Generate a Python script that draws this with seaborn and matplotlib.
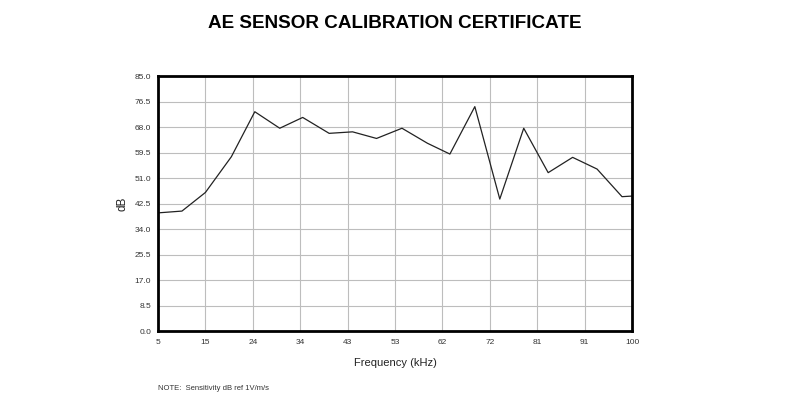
import pandas as pd
import matplotlib
matplotlib.use("Agg")
import matplotlib.pyplot as plt
import seaborn as sns

frecuencia = [5, 9.8, 14.5, 19.7, 24.4, 29.4, 34.0, 39.3, 44.0, 48.8, 53.9,
              59.0, 63.5, 68.5, 73.5, 78.3, 83.2, 88.1, 93.0, 98.0, 100]
sensibilidad = [39.4, 40.0, 46.2, 58.1, 73.1, 67.6, 71.2, 65.9, 66.4, 64.2, 67.6,
                62.6, 59.0, 74.8, 44.0, 67.6, 52.8, 57.9, 54.0, 44.8, 45.0]

x_ticks = [5, 14.5, 24, 33.5, 43, 52.5, 62, 71.5, 81, 90.5, 100]
x_labels = ["5", "15", "24", "34", "43", "53", "62", "72", "81", "91", "100"]
y_ticks = [0.0, 8.5, 17.0, 25.5, 34.0, 42.5, 51.0, 59.5, 68.0, 76.5, 85.0]

df = pd.DataFrame({"freq": frecuencia, "db": sensibilidad})

sns.set_style("white")
plt.rcParams["font.family"] = ["Liberation Sans", "DejaVu Sans"]

fig = plt.figure(figsize=(7.9, 3.98), dpi=100)
ax = fig.add_axes([0.2, 0.168, 0.6, 0.641])

sns.lineplot(data=df, x="freq", y="db", color="#222222", linewidth=0.9, ax=ax)

ax.set_xlim(5, 100)
ax.set_ylim(0, 85)
ax.set_xticks(x_ticks)
ax.set_xticklabels(x_labels)
ax.set_yticks(y_ticks)
ax.set_yticklabels([f"{v:.1f}" for v in y_ticks])
ax.tick_params(axis="both", length=0, labelsize=6, colors="#333333")
ax.tick_params(axis="x", pad=6)
ax.tick_params(axis="y", pad=5)
ax.grid(True, color="#bdbdbd", linewidth=0.8)

for s in ax.spines.values():
    s.set_visible(True)
    s.set_color("black")
    s.set_linewidth(2.0)

ax.set_xlabel("Frequency (kHz)", fontsize=8, labelpad=8, color="#222222")
ax.set_ylabel("dB", fontsize=8.5, labelpad=4, color="#222222")

fig.text(0.5, 0.942, "AE SENSOR CALIBRATION CERTIFICATE", ha="center", va="center",
         fontsize=13.6, fontweight="bold", color="black")
fig.text(0.2, 0.015, "NOTE:  Sensitivity dB ref 1V/m/s", ha="left", va="bottom",
         fontsize=5.5, color="#333333")

fig.savefig("out.png", dpi=100, facecolor="white")
